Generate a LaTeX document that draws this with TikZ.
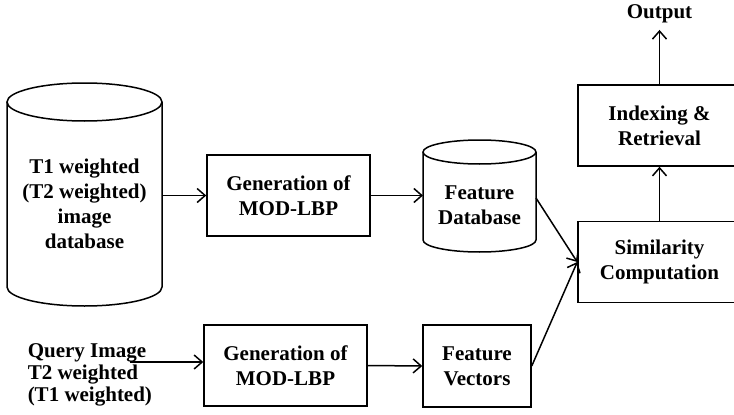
\documentclass[tikz,border=0pt]{standalone}
\usepackage{fontspec}
\setmainfont{Liberation Serif}
\usetikzlibrary{arrows.meta}
\begin{document}
\begin{tikzpicture}[x=1pt,y=-1pt,line width=1.5pt,
  every node/.style={font=\bfseries\fontsize{21}{25}\selectfont,align=center},
  blk/.style={draw,minimum width=163pt,minimum height=81pt,inner sep=0pt},
  arr/.style={-{Straight Barb[length=8pt,width=14pt]}}]
\useasboundingbox (0,0) rectangle (734,415);
\fill[white] (0,0) rectangle (734,415);
\clip (0,0) rectangle (734,415);

% image database cylinder
\draw (84.5,102) ellipse[x radius=77.5pt,y radius=19pt];
\draw (7,102) -- (7,287) arc[start angle=180,end angle=360,x radius=77.5pt,y radius=19pt] -- (162,102);
\node (imgdb) at (84.5,204) {T1 weighted\\(T2 weighted)\\image\\database};
\coordinate (imgdbout) at (162,195.5);

% feature database cylinder
\draw (479.5,152) ellipse[x radius=56.5pt,y radius=12pt];
\draw (423,152) -- (423,240) arc[start angle=180,end angle=360,x radius=56.5pt,y radius=12pt] -- (536,152);
\node (fdb) at (479.5,205) {Feature\\Database};
\coordinate (fdbin) at (423,195.5);
\coordinate (fdbout) at (536,198);

% processing blocks
\node[blk] (gen1) at (288.5,195.5) {Generation of\\MOD-LBP};
\node[blk] (gen2) at (285.5,365.5) {Generation of\\MOD-LBP};
\node[blk,minimum width=108pt,minimum height=82pt] (fvec) at (477,366) {Feature\\Vectors};
\node[blk] (sim) at (659.5,262) {Similarity\\Computation};
\node[blk] (idx) at (659.5,125.5) {Indexing \&\\Retrieval};
\node[inner sep=6pt] (out) at (659.5,14) {Output};

% query input
\node[anchor=west,align=left,inner sep=0pt,font=\bfseries\fontsize{21}{22}\selectfont] (query) at (27,375) {Query Image\\T2 weighted\\(T1 weighted)};
\coordinate (qport) at (130,362);

% connectors
\draw[arr] (imgdbout) -- (gen1.west);
\draw[arr] (gen1.east) -- (fdbin);
\draw[arr] (fdbout) -- (sim.west);
\draw[arr] (fvec.east) -- (sim.west);
\draw[arr] (sim.north) -- (idx.south);
\draw[arr] (idx.north) -- (out.south);
\draw[arr] (qport) -- (qport -| gen2.west);
\draw[arr] (gen2.east) -- (fvec.west);
\end{tikzpicture}
\end{document}
